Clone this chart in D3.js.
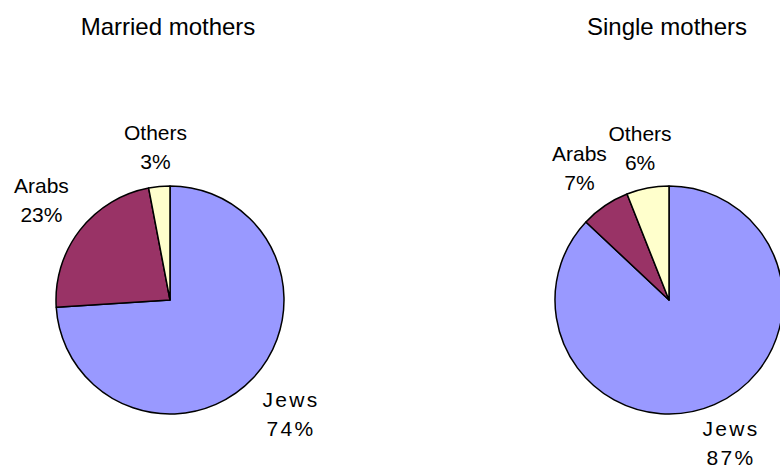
<!DOCTYPE html>
<html>
<head>
<meta charset="UTF-8">
<style>
    body { margin: 0; background: #fff; }
    text { font-family: "Liberation Sans", Arial, sans-serif; fill: #000; }
    .title { font-size: 24px; }
    .lbl { font-size: 21px; }
</style>
<script src="https://d3js.org/d3.v7.min.js"></script>
</head>
<body>
<svg width="780" height="471"></svg>
<script>
    // data
    var categories = ["Jews", "Arabs", "Others"];
    var titles = ["Married mothers", "Single mothers"];
    var married = [74, 23, 3];
    var single = [87, 7, 6];
    var colors = ["#9999FF", "#993366", "#FFFFCC"];

    var svg = d3.select("svg");
    var radius = 114;
    var centers = d3.scalePoint().domain(titles).range([170, 669]);
    var cy = 300;

    var color = d3.scaleOrdinal().domain(categories).range(colors);
    var pie = d3.pie().sort(null).value(function(d) { return d.value; });
    var arc = d3.arc().innerRadius(0).outerRadius(radius);

    [married, single].forEach(function(values, k) {
        var cx = centers(titles[k]);
        var rows = categories.map(function(c, i) { return { name: c, value: values[i] }; });

        svg.append("text")
            .attr("class", "title")
            .attr("x", cx - 2)
            .attr("y", 35)
            .attr("text-anchor", "middle")
            .text(titles[k]);

        var g = svg.append("g").attr("transform", "translate(" + cx + "," + cy + ")");

        g.selectAll("path")
            .data(pie(rows))
            .enter()
            .append("path")
            .attr("d", arc)
            .attr("fill", function(d) { return color(d.data.name); })
            .attr("stroke", "#000")
            .attr("stroke-width", 1.5)
            .attr("stroke-linejoin", "round");

        // labels outside the pie, box edge just off the rim
        var labels = g.selectAll(".lbl")
            .data(pie(rows))
            .enter()
            .append("text")
            .attr("class", "lbl")
            .attr("text-anchor", "middle")
            .style("letter-spacing", function(d) { return d.data.name == "Jews" ? "2.3px" : null; });

        labels.append("tspan").attr("x", 0).attr("dy", 0).text(function(d) { return d.data.name; });
        labels.append("tspan").attr("x", 0).attr("dy", 29).text(function(d) { return d.data.value + "%"; });

        labels.each(function(d) {
            var b = this.getBBox();
            var a = (d.startAngle + d.endAngle) / 2;
            var s = Math.sin(a), c = -Math.cos(a);
            var dist = Math.min(b.width / 2 / Math.max(Math.abs(s), 1e-6), b.height / 2 / Math.max(Math.abs(c), 1e-6));
            var R = radius + 14 + dist;
            var tx = R * s, ty = R * c;
            // shift so box centre sits at (tx, ty)
            var ox = tx - (b.x + b.width / 2);
            var oy = ty - (b.y + b.height / 2);
            d3.select(this).attr("transform", "translate(" + ox + "," + oy + ")");
        });
    });
</script>
</body>
</html>
